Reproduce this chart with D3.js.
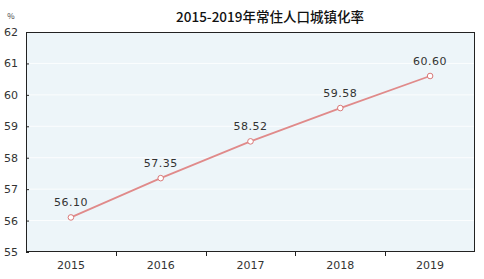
<!DOCTYPE html>
<html><head><meta charset="utf-8">
<script src="https://cdn.jsdelivr.net/npm/d3@7"></script>
<style>
body{margin:0;background:#fff;}
svg{display:block;font-family:"Noto Sans CJK SC","DejaVu Sans",sans-serif;}
</style></head>
<body><svg id="c" width="484" height="279"></svg>
<script>
const title = "2015-2019年常住人口城镇化率";
const unit = "%";
const years = ["2015","2016","2017","2018","2019"];
const values = [56.10, 57.35, 58.52, 59.58, 60.60];
const yTicks = [55,56,57,58,59,60,61,62];

const svg = d3.select("#c");
const m = {l:26, r:9, t:32, b:27};
const W = 484, H = 279;
const x = d3.scaleBand().domain(years).range([m.l, W - m.r]);
const y = d3.scaleLinear().domain([55,62]).range([H - m.b, m.t]);

svg.append("rect").attr("x", m.l).attr("y", m.t)
  .attr("width", W - m.r - m.l).attr("height", H - m.b - m.t)
  .attr("fill", "#edf5f9");

svg.append("g").selectAll("line").data(yTicks.slice(1, -1)).join("line")
  .attr("x1", m.l).attr("x2", W - m.r)
  .attr("y1", d => y(d)).attr("y2", d => y(d))
  .attr("stroke", "#ffffff").attr("stroke-opacity", 0.8).attr("stroke-width", 1);

// frame
svg.append("rect").attr("x", m.l + 0.5).attr("y", m.t + 0.5)
  .attr("width", W - m.r - m.l - 1).attr("height", H - m.b - m.t - 1)
  .attr("fill", "none").attr("stroke", "#222").attr("stroke-width", 1);

// y axis
const ya = svg.append("g").attr("transform", `translate(${m.l},0)`)
  .call(d3.axisLeft(y).tickValues(yTicks).tickSize(3).tickFormat(d3.format("d")));
ya.select(".domain").remove();
ya.selectAll("line").attr("stroke", "#222").attr("transform","translate(3,0)");
ya.selectAll("text").attr("font-size", 11).attr("fill", "#333")
  .attr("font-family", "DejaVu Sans, sans-serif").attr("x", -8);

// x axis with ticks at band boundaries
const xa = svg.append("g").attr("transform", `translate(0,${H - m.b})`)
  .call(d3.axisBottom(x).tickSize(0).tickPadding(9));
xa.select(".domain").remove();
xa.selectAll("text").attr("font-size", 11).attr("fill", "#333")
  .attr("font-family", "DejaVu Sans, sans-serif");
svg.append("g").selectAll("line").data(years.slice(1)).join("line")
  .attr("x1", d => Math.round(x(d)) + 0.5).attr("x2", d => Math.round(x(d)) + 0.5)
  .attr("y1", H - m.b).attr("y2", H - m.b + 4)
  .attr("stroke", "#222");

const cx = d => x(d) + x.bandwidth() / 2;
const line = d3.line().x((d, i) => cx(years[i])).y(d => y(d));
svg.append("path").datum(values).attr("d", line)
  .attr("fill", "none").attr("stroke", "#e08a8a").attr("stroke-width", 1.8);
svg.append("g").selectAll("circle").data(values).join("circle")
  .attr("cx", (d, i) => cx(years[i])).attr("cy", d => y(d)).attr("r", 2.8)
  .attr("fill", "#fff").attr("stroke", "#d97878").attr("stroke-width", 1);
svg.append("g").selectAll("text").data(values).join("text")
  .attr("x", (d, i) => cx(years[i])).attr("y", d => y(d) - 11)
  .attr("text-anchor", "middle").attr("font-size", 11).attr("fill", "#333")
  .attr("font-family", "DejaVu Sans, sans-serif").attr("letter-spacing", 0.5)
  .text(d => d3.format(".2f")(d));

svg.append("text").attr("x", 270).attr("y", 22).attr("text-anchor", "middle")
  .attr("font-size", 13.5).attr("font-weight", 500).attr("fill", "#111").text(title);
svg.append("text").attr("x", 11).attr("y", 19).attr("text-anchor", "middle")
  .attr("font-size", 8).attr("fill", "#444").text(unit);
</script></body></html>
